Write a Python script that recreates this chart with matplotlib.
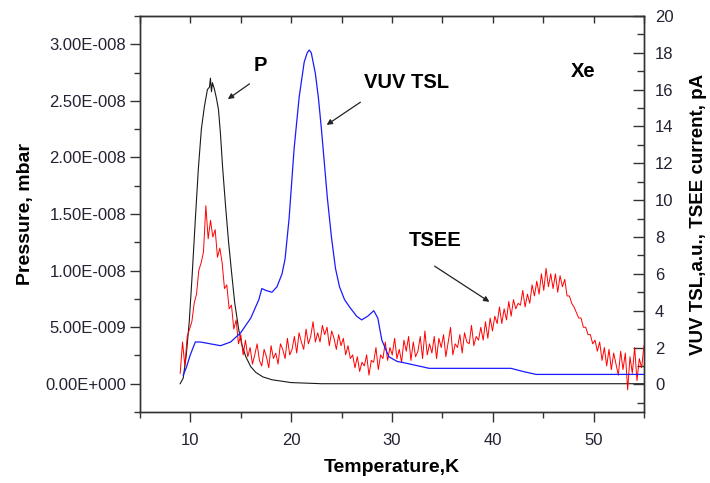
import numpy as np
import matplotlib
matplotlib.use('Agg')
import matplotlib.pyplot as plt
from matplotlib.ticker import MultipleLocator, FixedLocator, FixedFormatter

plt.rcParams['font.family'] = ['Liberation Sans', 'DejaVu Sans']

# pressure, left axis (mbar)
p_temp = [9.0, 9.3, 9.6, 9.9, 10.2, 10.5, 10.8, 11.1, 11.4, 11.7, 11.9, 12.0, 12.1, 12.2,
          12.4, 12.6, 12.8, 13.0, 13.2, 13.5, 13.8, 14.1, 14.4, 14.8, 15.1, 15.5, 16.0,
          16.5, 17.2, 18.1, 20.0, 23.0, 55.0]
p_mbar = [0.0, 0.05e-8, 0.25e-8, 0.55e-8, 0.98e-8, 1.45e-8, 1.9e-8, 2.25e-8, 2.45e-8,
          2.6e-8, 2.62e-8, 2.7e-8, 2.58e-8, 2.66e-8, 2.6e-8, 2.52e-8, 2.42e-8, 2.2e-8,
          1.92e-8, 1.57e-8, 1.25e-8, 0.98e-8, 0.72e-8, 0.48e-8, 0.35e-8, 0.24e-8,
          0.15e-8, 0.1e-8, 0.06e-8, 0.035e-8, 0.01e-8, 0.0, 0.0]

# VUV TSL, right axis
tsl_temp = [9.3, 9.6, 10.0, 10.5, 11.0, 12.0, 13.0, 14.0, 15.0, 16.0, 16.8, 17.1, 17.5,
            18.1, 18.6, 19.1, 19.4, 19.8, 20.3, 20.8, 21.3, 21.6, 21.8, 22.0, 22.4, 22.7,
            23.0, 23.3, 23.6, 24.0, 24.4, 24.8, 25.3, 25.8, 26.5, 27.0, 27.6, 28.2, 28.6,
            29.0, 29.7, 30.5, 31.4, 33.7, 38.0, 41.8, 43.0, 44.3, 55.0]
tsl_pa = [0.5, 0.9, 1.6, 2.3, 2.3, 2.2, 2.1, 2.3, 2.8, 3.6, 4.6, 5.2, 5.1,
          5.0, 5.3, 6.0, 6.8, 9.0, 12.8, 15.6, 17.5, 18.0, 18.15, 18.0, 16.9, 15.6,
          13.9, 12.0, 10.1, 8.0, 6.3, 5.3, 4.6, 4.2, 3.7, 3.5, 3.7, 4.0, 3.6,
          2.4, 1.5, 1.25, 1.15, 0.87, 0.87, 0.87, 0.7, 0.54, 0.54]

# TSEE current, right axis, read at an even temperature step from 9 K to 55 K
tsee_pa = [
    0.6, 2.3, 1.0, 2.6, 3.0, 3.4, 4.4, 4.9, 6.2, 6.6,
    7.2, 9.7, 7.9, 8.9, 8.0, 8.4, 6.9, 7.4, 6.6, 5.2,
    5.4, 4.1, 4.3, 3.0, 3.5, 2.2, 2.7, 1.6, 2.4, 1.5,
    2.0, 1.1, 1.6, 2.2, 1.3, 1.0, 1.9, 1.5, 0.9, 2.1,
    1.4, 1.7, 1.1, 2.2, 1.9, 1.4, 2.5, 1.6, 1.9, 2.6,
    1.7, 2.8, 2.3, 1.9, 3.0, 2.2, 2.6, 3.4, 2.3, 2.8,
    2.3, 3.2, 2.7, 3.1, 2.1, 2.9, 2.5, 1.9, 2.7, 2.1,
    2.5, 1.6, 2.1, 1.4, 1.6, 0.9, 1.5, 0.7, 1.2, 1.0,
    1.6, 0.5, 1.3, 1.2, 2.0, 0.8, 1.6, 1.4, 2.3, 1.3,
    2.0, 1.6, 2.5, 1.4, 1.9, 1.2, 2.4, 1.8, 2.6, 1.3,
    2.3, 1.5, 1.8, 2.6, 1.4, 2.9, 1.6, 2.2, 1.7, 2.6,
    1.4, 2.5, 2.0, 2.7, 1.5, 2.3, 3.1, 1.6, 2.2, 2.0,
    2.7, 1.7, 2.8, 2.3, 2.2, 3.2, 2.1, 2.6, 2.4, 3.1,
    2.4, 3.4, 2.5, 3.6, 2.9, 3.7, 3.3, 4.2, 3.3, 4.1,
    3.5, 4.5, 3.7, 4.6, 4.1, 4.4, 4.3, 5.1, 4.2, 4.9,
    4.4, 5.4, 4.8, 5.6, 4.9, 6.0, 5.1, 6.3, 5.3, 6.0,
    5.2, 6.0, 5.0, 5.9, 5.3, 5.7, 4.8, 4.8, 4.4, 4.2,
    3.9, 3.6, 3.6, 3.1, 3.1, 2.7, 2.7, 2.2, 2.4, 1.8,
    2.3, 1.3, 2.0, 1.0, 1.9, 0.8, 1.7, 1.1, 0.5, 1.8,
    0.8, 1.7, -0.3, 1.5, 0.6, 2.0, 0.2, 1.4, 0.9, 2.1,
]
tsee_temp = np.linspace(9.0, 55.0, len(tsee_pa))

p_ticks = [0.0, 5e-9, 1e-8, 1.5e-8, 2e-8, 2.5e-8, 3e-8]
p_tick_labels = ['0.00E+000', '5.00E-009', '1.00E-008', '1.50E-008',
                 '2.00E-008', '2.50E-008', '3.00E-008']

fig = plt.figure(figsize=(7.1, 4.83), dpi=100)
ax = fig.add_axes([0.197, 0.147, 0.71, 0.82])
ax2 = ax.twinx()

ax.plot(p_temp, p_mbar, color='#1a1a1a', lw=0.8)
ax2.plot(tsee_temp, tsee_pa, color='#ff0000', lw=0.7)
ax2.plot(tsl_temp, tsl_pa, color='#1a1aff', lw=0.9)

ax.set_xlim(5, 55)
ax.set_ylim(-2.5e-9, 3.25e-8)
ax2.set_ylim(-1.5, 20)

ax.xaxis.set_major_locator(MultipleLocator(10))
ax.xaxis.set_minor_locator(MultipleLocator(5))
ax.yaxis.set_major_locator(FixedLocator(p_ticks))
ax.yaxis.set_major_formatter(FixedFormatter(p_tick_labels))
ax.yaxis.set_minor_locator(MultipleLocator(2.5e-9))
ax2.yaxis.set_major_locator(MultipleLocator(2))
ax2.yaxis.set_minor_locator(MultipleLocator(1))

edge = '#333333'
ax.tick_params(axis='both', which='major', direction='out', length=7, width=1,
               labelsize=12, colors=edge, labelcolor='#222233')
ax.tick_params(axis='both', which='minor', direction='out', length=4, width=1, colors=edge)
ax.tick_params(axis='y', pad=3)
ax.tick_params(axis='x', pad=8)
ax2.tick_params(axis='y', which='major', direction='in', length=8, width=1,
                labelsize=12, colors=edge, labelcolor='#222233', pad=8)
ax2.tick_params(axis='y', which='minor', direction='in', length=5, width=1, colors=edge)

top = ax.secondary_xaxis('top')
top.xaxis.set_major_locator(MultipleLocator(5))
top.tick_params(direction='in', length=5, width=1, colors=edge, labeltop=False)

for a in (ax, ax2):
    for s in a.spines.values():
        s.set_color(edge)
        s.set_linewidth(1)
top.spines['top'].set_color(edge)

ax.set_xlabel('Temperature,K', fontsize=14, fontweight='bold', labelpad=8)
ax.set_ylabel('Pressure, mbar', fontsize=14, fontweight='bold', labelpad=8)
ax2.set_ylabel('VUV TSL,a.u., TSEE current, pA', fontsize=13.5, fontweight='bold', labelpad=12)

txt = dict(fontsize=14.5, fontweight='bold', ha='center', va='center')
ax2.text(17.0, 17.3, 'P', **txt)
ax2.text(31.4, 16.4, 'VUV TSL', **txt)
ax2.text(34.3, 7.8, 'TSEE', **txt)
ax2.text(49.0, 17.0, 'Xe', **txt)

arr = dict(arrowstyle='-|>', color='#222222', lw=0.9, mutation_scale=8)
ax2.annotate('', xy=(13.5, 15.4), xytext=(16.1, 16.4), arrowprops=arr)
ax2.annotate('', xy=(23.3, 14.0), xytext=(27.1, 15.4), arrowprops=arr)
ax2.annotate('', xy=(39.9, 4.4), xytext=(34.0, 6.5), arrowprops=arr)

fig.savefig('out.png', dpi=100)
